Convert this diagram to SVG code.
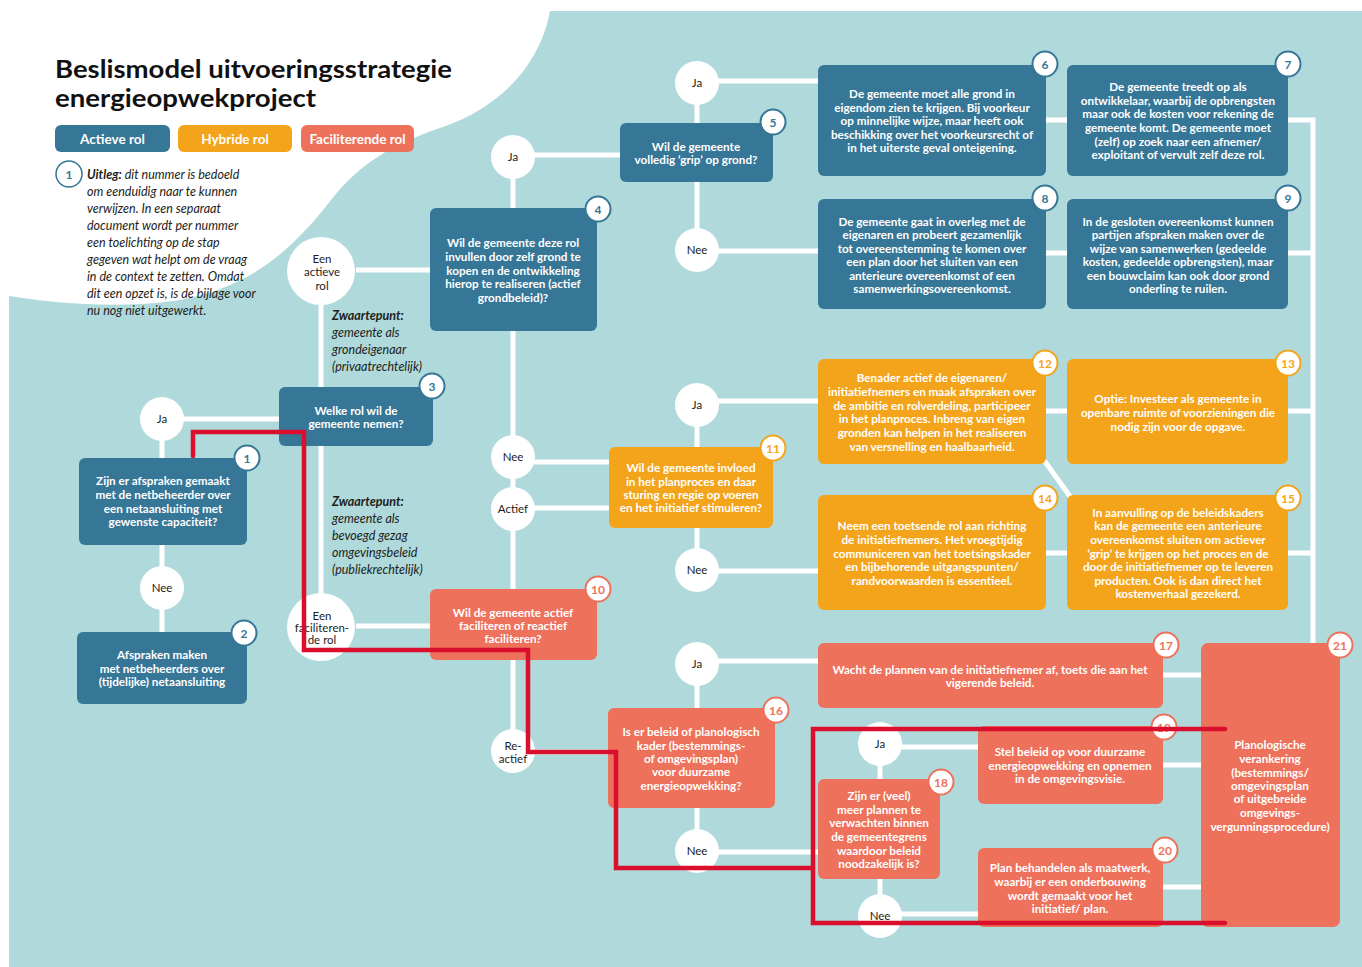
<svg xmlns="http://www.w3.org/2000/svg" width="1362" height="967" viewBox="0 0 1362 967">
<style>
.bg{fill:#AFD9DA}
.blue{fill:#367697}
.orange{fill:#F4A41A}
.coral{fill:#EE715B}
.nt{font-family:Lato,"Liberation Sans",sans-serif;font-weight:700;font-size:11.7px;fill:#fff;text-anchor:middle}
.ct{font-family:Lato,"Liberation Sans",sans-serif;font-size:11.5px;fill:#1d1d1b;text-anchor:middle}
.circ{fill:#fff}
.bb{fill:#fff;stroke-width:2}
.bbl{stroke:#367697}
.bor{stroke:#F4A41A}
.bco{stroke:#EE715B}
.bn{font-family:Lato,"Liberation Sans",sans-serif;font-weight:700;font-size:12px;text-anchor:middle}
.conn{stroke:#fff;stroke-width:5;fill:none}
.red{stroke:#DA0F2E;stroke-width:4.5;fill:none;stroke-linecap:round;stroke-linejoin:miter}
.it{font-family:Lato,"Liberation Sans",sans-serif;font-style:italic;font-size:12.5px;fill:#1d1d1b}
.leg{font-family:Lato,"Liberation Sans",sans-serif;font-weight:700;font-size:13.5px;fill:#fff;text-anchor:middle}
.ttl{font-family:Lato,"Liberation Sans",sans-serif;font-weight:700;font-size:24px;fill:#111}
</style>
<rect x="0" y="0" width="1362" height="967" fill="#fff"/>
<rect class="bg" x="9" y="11" width="1353" height="956"/>
<path d="M9,11 H550 C542,55 510,105 440,128 C390,145 360,165 335,195 C300,240 260,285 180,300 C120,309 60,304 9,296 Z" fill="#fff"/>

<g id="title">
<text class="ttl" x="55" y="78" textLength="397" lengthAdjust="spacingAndGlyphs">Beslismodel uitvoeringsstrategie</text>
<text class="ttl" x="55" y="107" textLength="261" lengthAdjust="spacingAndGlyphs">energieopwekproject</text>
</g>
<g id="legend">
<rect class="blue" x="55" y="125" width="115" height="27" rx="6"/>
<text class="leg" x="112.5" y="143.5">Actieve rol</text>
<rect class="orange" x="178" y="125" width="114" height="27" rx="6"/>
<text class="leg" x="235" y="143.5">Hybride rol</text>
<rect class="coral" x="301" y="125" width="113" height="27" rx="6"/>
<text class="leg" x="357.5" y="143.5">Faciliterende rol</text>
</g>
<g id="uitleg">
<circle cx="69" cy="174" r="13" fill="#fff" stroke="#367697" stroke-width="1.5"/>
<text class="bn" x="69" y="178.5" fill="#367697" font-weight="400">1</text>
<text class="it" x="87" y="179"><tspan font-weight="700">Uitleg:</tspan> dit nummer is bedoeld</text>
<text class="it" x="87" y="196">om eenduidig naar te kunnen</text>
<text class="it" x="87" y="213">verwijzen. In een separaat</text>
<text class="it" x="87" y="230">document wordt per nummer</text>
<text class="it" x="87" y="247">een toelichting op de stap</text>
<text class="it" x="87" y="264">gegeven wat helpt om de vraag</text>
<text class="it" x="87" y="281">in de context te zetten. Omdat</text>
<text class="it" x="87" y="298">dit een opzet is, is de bijlage voor</text>
<text class="it" x="87" y="315">nu nog niet uitgewerkt.</text>
</g>
<g id="zwaartepunt1">
<text class="it" x="332" y="320" font-weight="700">Zwaartepunt:</text>
<text class="it" x="332" y="337">gemeente als</text>
<text class="it" x="332" y="354">grondeigenaar</text>
<text class="it" x="332" y="371">(privaatrechtelijk)</text>
</g>
<g id="zwaartepunt2">
<text class="it" x="332" y="506" font-weight="700">Zwaartepunt:</text>
<text class="it" x="332" y="523">gemeente als</text>
<text class="it" x="332" y="540">bevoegd gezag</text>
<text class="it" x="332" y="557">omgevingsbeleid</text>
<text class="it" x="332" y="574">(publiekrechtelijk)</text>
</g>

<g id="connectors">
<path class="conn" d="M162,419 H280 M162,419 V458 M162,545 V632"/>
<path class="conn" d="M321,272 V387 M321,446 V627 M356,270 H430 M356,626 H430"/>
<path class="conn" d="M513,157 V208 M513,155 H620 M513,331 V589 M513,660 V750 M513,752 H608 M513,462 H609 M513,508 H609"/>
<path class="conn" d="M697,84 V250 M697,81 H818 M697,251 H818"/>
<path class="conn" d="M1046,120 H1067 M1288,120 H1313 V643 M1046,253 H1067 M1288,253 H1313"/>
<path class="conn" d="M697,405 V570 M697,401 H818 M697,571 H818"/>
<path class="conn" d="M1046,411 H1067 M1288,411 H1313 M1046,553 H1067 M1288,553 H1313 M1043,459 L1072,499"/>
<path class="conn" d="M697,664 V851 M697,661 H818 M697,852 H818"/>
<path class="conn" d="M1163,675 H1201 M880,744 V916 M880,747 H978 M880,914 H978 M1163,765 H1201 M1163,887 H1201"/>
</g>

<g id="c-ja1"><circle class="circ" cx="162" cy="419" r="22"/><text class="ct" x="162" y="423">Ja</text></g>
<g id="c-nee1"><circle class="circ" cx="162" cy="588" r="22"/><text class="ct" x="162" y="592">Nee</text></g>
<g id="c-actieve"><circle class="circ" cx="321" cy="271" r="34"/><text class="ct" x="322" y="263">Een</text><text class="ct" x="322" y="276">actieve</text><text class="ct" x="322" y="290">rol</text></g>
<g id="c-facil"><circle class="circ" cx="321" cy="627" r="34"/><text class="ct" x="322" y="620">Een</text><text class="ct" x="322" y="632">faciliteren-</text><text class="ct" x="322" y="644">de rol</text></g>
<g id="c-ja4"><circle class="circ" cx="513" cy="157" r="22"/><text class="ct" x="513" y="161">Ja</text></g>
<g id="c-nee4"><circle class="circ" cx="513" cy="457" r="22"/><text class="ct" x="513" y="461">Nee</text></g>
<g id="c-actief"><circle class="circ" cx="513" cy="509" r="22"/><text class="ct" x="513" y="513">Actief</text></g>
<g id="c-reactief"><circle class="circ" cx="513" cy="751" r="22"/><text class="ct" x="513" y="750">Re-</text><text class="ct" x="513" y="763">actief</text></g>
<g id="c-ja5"><circle class="circ" cx="697" cy="83" r="22"/><text class="ct" x="697" y="87">Ja</text></g>
<g id="c-nee5"><circle class="circ" cx="697" cy="250" r="22"/><text class="ct" x="697" y="254">Nee</text></g>
<g id="c-ja11"><circle class="circ" cx="697" cy="405" r="22"/><text class="ct" x="697" y="409">Ja</text></g>
<g id="c-nee11"><circle class="circ" cx="697" cy="570" r="22"/><text class="ct" x="697" y="574">Nee</text></g>
<g id="c-ja16"><circle class="circ" cx="697" cy="664" r="22"/><text class="ct" x="697" y="668">Ja</text></g>
<g id="c-nee16"><circle class="circ" cx="697" cy="851" r="22"/><text class="ct" x="697" y="855">Nee</text></g>
<g id="c-ja18"><circle class="circ" cx="880" cy="744" r="22"/><text class="ct" x="880" y="748">Ja</text></g>
<g id="c-nee18"><circle class="circ" cx="880" cy="916" r="22"/><text class="ct" x="880" y="920">Nee</text></g>

<g id="node1"><rect class="blue" x="79" y="458" width="168" height="87" rx="6"/>
<text class="nt" x="163" y="485">Zijn er afspraken gemaakt</text><text class="nt" x="163" y="499">met de netbeheerder over</text><text class="nt" x="163" y="513">een netaansluiting met</text><text class="nt" x="163" y="526">gewenste capaciteit?</text>
<circle class="bb bbl" cx="247" cy="458" r="12.5"/><text class="bn" x="247" y="462.5" fill="#367697">1</text></g>
<g id="node2"><rect class="blue" x="77" y="632" width="170" height="72" rx="6"/>
<text class="nt" x="162" y="659">Afspraken maken</text><text class="nt" x="162" y="673">met netbeheerders over</text><text class="nt" x="162" y="686">(tijdelijke) netaansluiting</text>
<circle class="bb bbl" cx="244" cy="633" r="12.5"/><text class="bn" x="244" y="637.5" fill="#367697">2</text></g>
<g id="node3"><rect class="blue" x="279" y="387" width="154" height="59" rx="6"/>
<text class="nt" x="356" y="415">Welke rol wil de</text><text class="nt" x="356" y="428">gemeente nemen?</text>
<circle class="bb bbl" cx="432" cy="386" r="12.5"/><text class="bn" x="432" y="390.5" fill="#367697">3</text></g>
<g id="node4"><rect class="blue" x="430" y="208" width="167" height="123" rx="6"/>
<text class="nt" x="513" y="247">Wil de gemeente deze rol</text><text class="nt" x="513" y="261">invullen door zelf grond te</text><text class="nt" x="513" y="275">kopen en de ontwikkeling</text><text class="nt" x="513" y="288">hierop te realiseren (actief</text><text class="nt" x="513" y="302">grondbeleid)?</text>
<circle class="bb bbl" cx="598" cy="209" r="12.5"/><text class="bn" x="598" y="213.5" fill="#367697">4</text></g>
<g id="node5"><rect class="blue" x="620" y="123" width="153" height="59" rx="6"/>
<text class="nt" x="696" y="151">Wil de gemeente</text><text class="nt" x="696" y="164">volledig ‘grip’ op grond?</text>
<circle class="bb bbl" cx="773" cy="122" r="12.5"/><text class="bn" x="773" y="126.5" fill="#367697">5</text></g>
<g id="node6"><rect class="blue" x="818" y="65" width="228" height="111" rx="6"/>
<text class="nt" x="932" y="98">De gemeente moet alle grond in</text><text class="nt" x="932" y="112">eigendom zien te krijgen. Bij voorkeur</text><text class="nt" x="932" y="125">op minnelijke wijze, maar heeft ook</text><text class="nt" x="932" y="139">beschikking over het voorkeursrecht of</text><text class="nt" x="932" y="152">in het uiterste geval onteigening.</text>
<circle class="bb bbl" cx="1045" cy="64" r="12.5"/><text class="bn" x="1045" y="68.5" fill="#367697">6</text></g>
<g id="node7"><rect class="blue" x="1067" y="65" width="221" height="111" rx="6"/>
<text class="nt" x="1178" y="91">De gemeente treedt op als</text><text class="nt" x="1178" y="105">ontwikkelaar, waarbij de opbrengsten</text><text class="nt" x="1178" y="118">maar ook de kosten voor rekening de</text><text class="nt" x="1178" y="132">gemeente komt. De gemeente moet</text><text class="nt" x="1178" y="146">(zelf) op zoek naar een afnemer/</text><text class="nt" x="1178" y="159">exploitant of vervult zelf deze rol.</text>
<circle class="bb bbl" cx="1288" cy="64" r="12.5"/><text class="bn" x="1288" y="68.5" fill="#367697">7</text></g>
<g id="node8"><rect class="blue" x="818" y="199" width="228" height="110" rx="6"/>
<text class="nt" x="932" y="226">De gemeente gaat in overleg met de</text><text class="nt" x="932" y="239">eigenaren en probeert gezamenlijk</text><text class="nt" x="932" y="253">tot overeenstemming te komen over</text><text class="nt" x="932" y="266">een plan door het sluiten van een</text><text class="nt" x="932" y="280">anterieure overeenkomst of een</text><text class="nt" x="932" y="293">samenwerkingsovereenkomst.</text>
<circle class="bb bbl" cx="1045" cy="198" r="12.5"/><text class="bn" x="1045" y="202.5" fill="#367697">8</text></g>
<g id="node9"><rect class="blue" x="1067" y="199" width="221" height="110" rx="6"/>
<text class="nt" x="1178" y="226">In de gesloten overeenkomst kunnen</text><text class="nt" x="1178" y="239">partijen afspraken maken over de</text><text class="nt" x="1178" y="253">wijze van samenwerken (gedeelde</text><text class="nt" x="1178" y="266">kosten, gedeelde opbrengsten), maar</text><text class="nt" x="1178" y="280">een bouwclaim kan ook door grond</text><text class="nt" x="1178" y="293">onderling te ruilen.</text>
<circle class="bb bbl" cx="1288" cy="198" r="12.5"/><text class="bn" x="1288" y="202.5" fill="#367697">9</text></g>
<g id="node10"><rect class="coral" x="430" y="589" width="167" height="71" rx="6"/>
<text class="nt" x="513" y="617">Wil de gemeente actief</text><text class="nt" x="513" y="630">faciliteren of reactief</text><text class="nt" x="513" y="643">faciliteren?</text>
<circle class="bb bco" cx="598" cy="589" r="12.5"/><text class="bn" x="598" y="593.5" fill="#EE715B">10</text></g>
<g id="node11"><rect class="orange" x="609" y="447" width="164" height="81" rx="6"/>
<text class="nt" x="691" y="472">Wil de gemeente invloed</text><text class="nt" x="691" y="486">in het planproces en daar</text><text class="nt" x="691" y="499">sturing en regie op voeren</text><text class="nt" x="691" y="512">en het initiatief stimuleren?</text>
<circle class="bb bor" cx="773" cy="448" r="12.5"/><text class="bn" x="773" y="452.5" fill="#F4A41A">11</text></g>
<g id="node12"><rect class="orange" x="818" y="359" width="228" height="105" rx="6"/>
<text class="nt" x="932" y="382">Benader actief de eigenaren/</text><text class="nt" x="932" y="396">initiatiefnemers en maak afspraken over</text><text class="nt" x="932" y="410">de ambitie en rolverdeling, participeer</text><text class="nt" x="932" y="423">in het planproces. Inbreng van eigen</text><text class="nt" x="932" y="437">gronden kan helpen in het realiseren</text><text class="nt" x="932" y="451">van versnelling en haalbaarheid.</text>
<circle class="bb bor" cx="1045" cy="363" r="12.5"/><text class="bn" x="1045" y="367.5" fill="#F4A41A">12</text></g>
<g id="node13"><rect class="orange" x="1067" y="359" width="221" height="105" rx="6"/>
<text class="nt" x="1178" y="403">Optie: Investeer als gemeente in</text><text class="nt" x="1178" y="417">openbare ruimte of voorzieningen die</text><text class="nt" x="1178" y="431">nodig zijn voor de opgave.</text>
<circle class="bb bor" cx="1288" cy="363" r="12.5"/><text class="bn" x="1288" y="367.5" fill="#F4A41A">13</text></g>
<g id="node14"><rect class="orange" x="818" y="495" width="228" height="115" rx="6"/>
<text class="nt" x="932" y="530">Neem een toetsende rol aan richting</text><text class="nt" x="932" y="544">de initiatiefnemers. Het vroegtijdig</text><text class="nt" x="932" y="558">communiceren van het toetsingskader</text><text class="nt" x="932" y="571">en bijbehorende uitgangspunten/</text><text class="nt" x="932" y="585">randvoorwaarden is essentieel.</text>
<circle class="bb bor" cx="1045" cy="498" r="12.5"/><text class="bn" x="1045" y="502.5" fill="#F4A41A">14</text></g>
<g id="node15"><rect class="orange" x="1067" y="495" width="221" height="115" rx="6"/>
<text class="nt" x="1178" y="517">In aanvulling op de beleidskaders</text><text class="nt" x="1178" y="530">kan de gemeente een anterieure</text><text class="nt" x="1178" y="544">overeenkomst sluiten om actiever</text><text class="nt" x="1178" y="558">‘grip’ te krijgen op het proces en de</text><text class="nt" x="1178" y="571">door de initiatiefnemer op te leveren</text><text class="nt" x="1178" y="585">producten. Ook is dan direct het</text><text class="nt" x="1178" y="598">kostenverhaal gezekerd.</text>
<circle class="bb bor" cx="1288" cy="498" r="12.5"/><text class="bn" x="1288" y="502.5" fill="#F4A41A">15</text></g>
<g id="node16"><rect class="coral" x="608" y="708" width="167" height="100" rx="6"/>
<text class="nt" x="691" y="736">Is er beleid of planologisch</text><text class="nt" x="691" y="750">kader (bestemmings-</text><text class="nt" x="691" y="763">of omgevingsplan)</text><text class="nt" x="691" y="776">voor duurzame</text><text class="nt" x="691" y="790">energieopwekking?</text>
<circle class="bb bco" cx="776" cy="710" r="12.5"/><text class="bn" x="776" y="714.5" fill="#EE715B">16</text></g>
<g id="node17"><rect class="coral" x="818" y="643" width="345" height="65" rx="6"/>
<text class="nt" x="990" y="674">Wacht de plannen van de initiatiefnemer af, toets die aan het</text><text class="nt" x="990" y="687">vigerende beleid.</text>
<circle class="bb bco" cx="1166" cy="645" r="12.5"/><text class="bn" x="1166" y="649.5" fill="#EE715B">17</text></g>
<g id="node18"><rect class="coral" x="818" y="779" width="122" height="100" rx="6"/>
<text class="nt" x="879" y="800">Zijn er (veel)</text><text class="nt" x="879" y="814">meer plannen te</text><text class="nt" x="879" y="827">verwachten binnen</text><text class="nt" x="879" y="841">de gemeentegrens</text><text class="nt" x="879" y="855">waardoor beleid</text><text class="nt" x="879" y="868">noodzakelijk is?</text>
<circle class="bb bco" cx="941" cy="782" r="12.5"/><text class="bn" x="941" y="786.5" fill="#EE715B">18</text></g>
<g id="node19"><rect class="coral" x="978" y="726" width="185" height="78" rx="6"/>
<text class="nt" x="1070" y="756">Stel beleid op voor duurzame</text><text class="nt" x="1070" y="770">energieopwekking en opnemen</text><text class="nt" x="1070" y="783">in de omgevingsvisie.</text>
<circle class="bb bco" cx="1164" cy="727" r="12.5"/><text class="bn" x="1164" y="731.5" fill="#EE715B">19</text></g>
<g id="node20"><rect class="coral" x="978" y="848" width="185" height="79" rx="6"/>
<text class="nt" x="1070" y="872">Plan behandelen als maatwerk,</text><text class="nt" x="1070" y="886">waarbij er een onderbouwing</text><text class="nt" x="1070" y="900">wordt gemaakt voor het</text><text class="nt" x="1070" y="913">initiatief/ plan.</text>
<circle class="bb bco" cx="1165" cy="850" r="12.5"/><text class="bn" x="1165" y="854.5" fill="#EE715B">20</text></g>
<g id="node21"><rect class="coral" x="1201" y="643" width="139" height="284" rx="7"/>
<text class="nt" x="1270" y="749">Planologische</text><text class="nt" x="1270" y="763">verankering</text><text class="nt" x="1270" y="777">(bestemmings/</text><text class="nt" x="1270" y="790">omgevingsplan</text><text class="nt" x="1270" y="803">of uitgebreide</text><text class="nt" x="1270" y="817">omgevings-</text><text class="nt" x="1270" y="831">vergunningsprocedure)</text>
<circle class="bb bco" cx="1340" cy="645" r="12.5"/><text class="bn" x="1340" y="649.5" fill="#EE715B">21</text></g>

<g id="red-path">
<path class="red" d="M193,456 V432 H304 V650 H528 V752 H616 V868 H813"/>
<path class="red" d="M1225,729 H813 V923 H1225"/>
</g>
</svg>
